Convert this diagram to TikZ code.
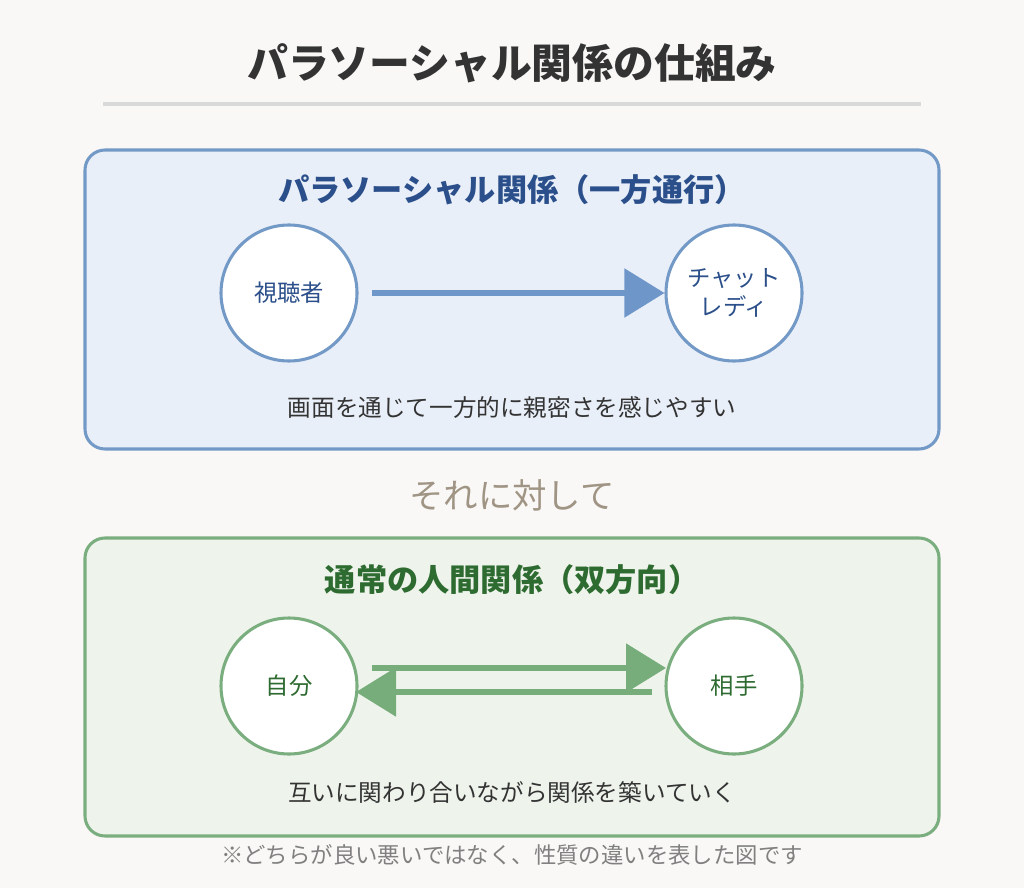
\documentclass[tikz,border=0pt]{standalone}
\usepackage{fontspec}
\setmainfont{Noto Sans CJK JP}
\usetikzlibrary{arrows.meta}
\definecolor{bg}{HTML}{F9F8F6}
\definecolor{bb}{HTML}{7399C6}
\definecolor{bf}{HTML}{E9EFF9}
\definecolor{bt}{HTML}{2B4F8A}
\definecolor{ba}{HTML}{6F96C9}
\definecolor{gb}{HTML}{7BAE7F}
\definecolor{gf}{HTML}{EEF4EC}
\definecolor{gt}{HTML}{2E6B30}
\definecolor{ga}{HTML}{77AD7A}
\definecolor{tx}{HTML}{333333}
\definecolor{mid}{HTML}{A09585}
\begin{document}
\begin{tikzpicture}[x=0.75pt,y=-0.75pt,
 circ/.style={circle,fill=white,draw,line width=2.3pt,minimum size=136*0.75pt,inner sep=0pt,font=\fontsize{17.5}{22}\selectfont,align=center},
 box/.style={rounded corners=15pt,line width=2.3pt},
 arr/.style={line width=4pt,-{Triangle[length=30pt,width=36pt]}},
 captxt/.style={font=\fontsize{17.7}{21}\selectfont,text=tx}]
\fill[bg] (0,0) rectangle (1024,888);
\node[font=\fontsize{30.6}{36}\bfseries\selectfont,text=tx] (t) at (512,63) {パラソーシャル関係の仕組み};
\draw[line width=2.3pt,color=black!15] (103,104) -- (921,104);
\draw[box,draw=bb,fill=bf] (85,150) rectangle (939,449);
\node[font=\fontsize{23.4}{28}\bfseries\selectfont,text=bt] (bt1) at (512,190) {パラソーシャル関係（一方通行）};
\node[circ,draw=bb,text=bt] (v) at (289,293) {視聴者};
\node[circ,draw=bb,text=bt] (c) at (734,293) {チャット\\レディ};
\draw[arr,ba] (372,293) -- (c.west);
\node[captxt] (bc) at (512,408) {画面を通じて一方的に親密さを感じやすい};
\node[font=\fontsize{25.8}{30}\selectfont,text=mid] (m) at (512,495) {それに対して};
\draw[box,draw=gb,fill=gf] (85,538) rectangle (939,836);
\node[font=\fontsize{23.4}{28}\bfseries\selectfont,text=gt] (gt1) at (512,580) {通常の人間関係（双方向）};
\node[circ,draw=gb,text=gt] (s) at (289,686) {自分};
\node[circ,draw=gb,text=gt] (o) at (734,686) {相手};
\coordinate (a1) at (372,668); \coordinate (a2) at (666,668);
\coordinate (b1) at (652,692); \coordinate (b2) at (356,692);
\draw[arr,ga] (a1) -- (a2);
\draw[arr,ga] (b1) -- (b2);
\node[captxt] (gc) at (512,792) {互いに関わり合いながら関係を築いていく};
\node[font=\fontsize{16.8}{20}\selectfont,text=black!50] (f) at (512,855) {※どちらが良い悪いではなく、性質の違いを表した図です};
\end{tikzpicture}
\end{document}
